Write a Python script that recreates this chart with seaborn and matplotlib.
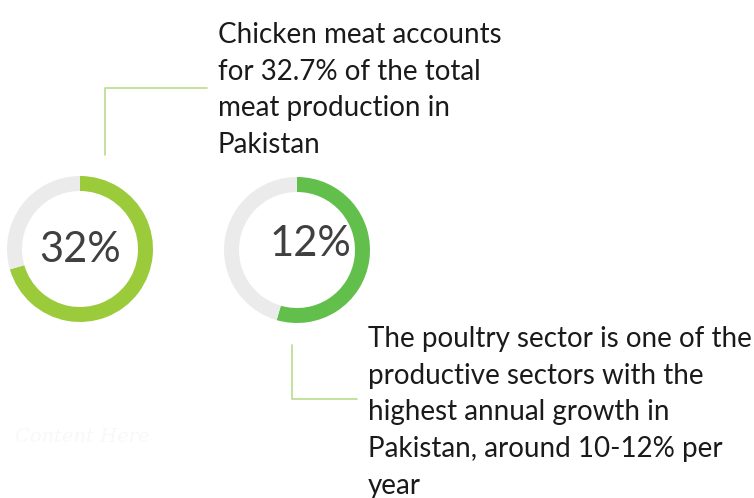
import numpy as np
import matplotlib
matplotlib.use("Agg")
import matplotlib.pyplot as plt
import seaborn as sns

# values
donut_labels = ['32%', '12%']
donut_fill = [0.705, 0.545]          # share of ring drawn in green
donut_colors = ['#9BCB3B', '#62BF4B']
ring_grey = '#EBEBEB'

note_1 = "Chicken meat accounts\nfor 32.7% of the total\nmeat production in\nPakistan"
note_2 = ("The poultry sector is one of the\nproductive sectors with the\n"
          "highest annual growth in\nPakistan, around 10-12% per\nyear")
faint_text = "Content Here"

W, H = 754, 498

sns.set_theme(style='white')
plt.rcParams['font.family'] = ['Lato', 'DejaVu Sans']


def py(y):
    # picture rows -> data y (origin at bottom)
    return H - y


def draw_donut(ax, fill, color, cx, cy, label, tx, ty):
    ax.pie([fill, 1 - fill], colors=[color, ring_grey], startangle=90,
           counterclock=False, radius=73, center=(cx, py(cy)),
           wedgeprops=dict(width=15, edgecolor='none', linewidth=0), frame=True)
    ax.text(tx, py(ty), label, ha='center', va='center', fontsize=30,
            color='#404040')


fig = plt.figure(figsize=(W / 100, H / 100), dpi=100)
ax = fig.add_axes([0, 0, 1, 1])

draw_donut(ax, donut_fill[0], donut_colors[0], 80, 249, donut_labels[0], 80, 250)
draw_donut(ax, donut_fill[1], donut_colors[1], 297, 250, donut_labels[1], 310, 244)

# connector lines
line_col = '#B9DB8C'
ax.plot([105, 105, 207], [py(155), py(88), py(88)], color=line_col, lw=1.2)
ax.plot([292, 292, 357], [py(345), py(399), py(399)], color=line_col, lw=1.2)

ax.text(218, py(22), note_1, ha='left', va='top', fontsize=20,
        color='#1a1a1a', linespacing=1.51)
ax.text(368, py(326), note_2, ha='left', va='top', fontsize=20,
        color='#1a1a1a', linespacing=1.51)

ax.text(15, py(437), faint_text, ha='left', va='center', fontsize=14,
        family='DejaVu Serif', style='italic', color='#F8F8F8')

ax.set_xlim(0, W)
ax.set_ylim(0, H)
ax.set_aspect('equal')
ax.axis('off')

fig.savefig('out.png', dpi=100, facecolor='white')
plt.close(fig)
